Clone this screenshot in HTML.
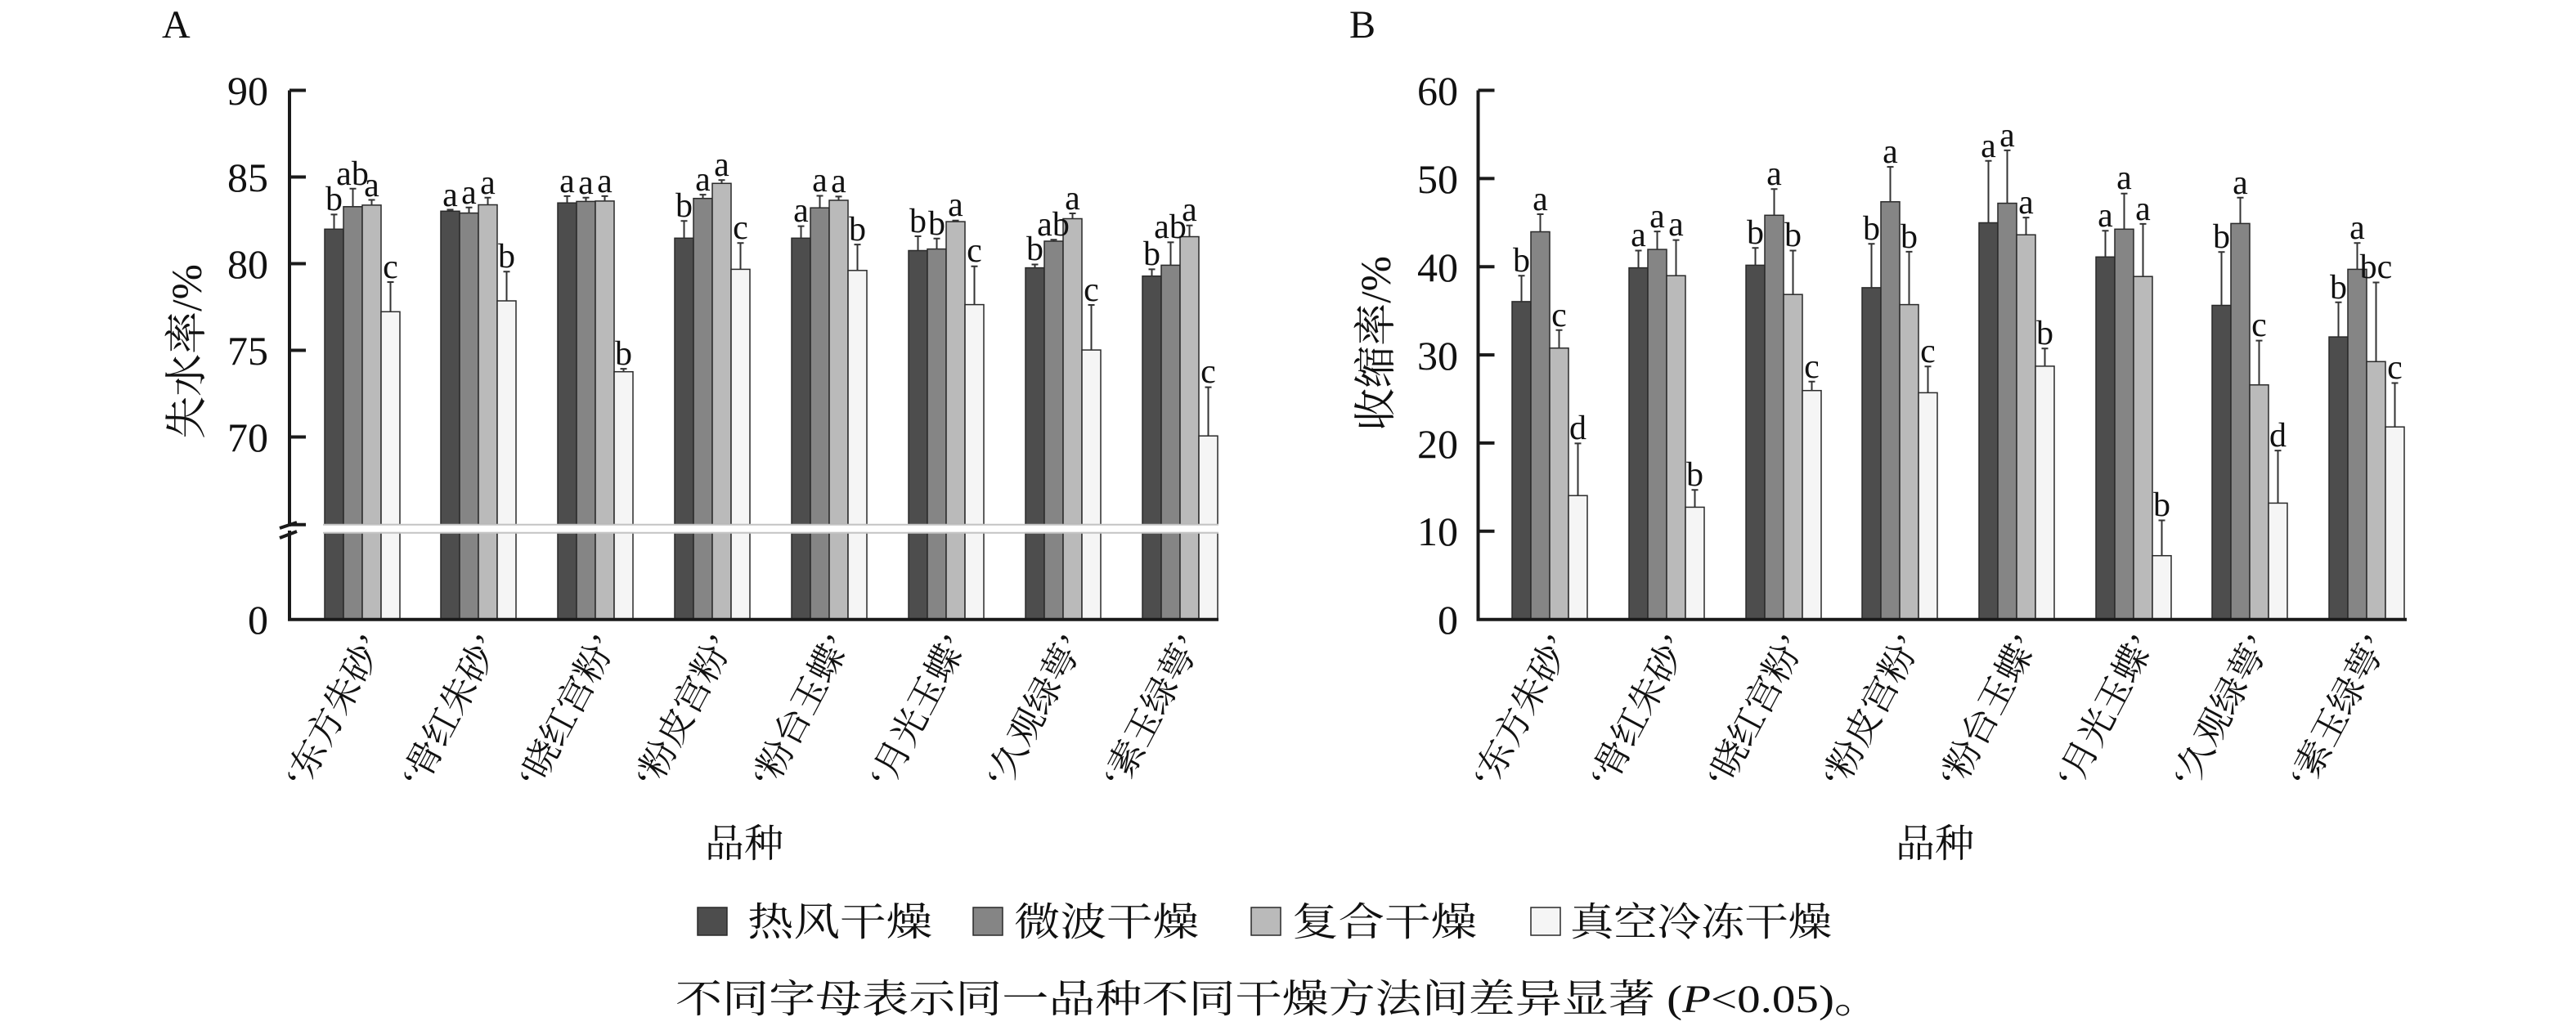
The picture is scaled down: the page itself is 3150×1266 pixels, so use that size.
<!DOCTYPE html>
<html><head><meta charset="utf-8"><style>
html,body{margin:0;padding:0;background:#fff}
svg{display:block}
.n{font-family:"Liberation Serif","Noto Serif CJK SC",serif;font-size:50px;fill:#111}
.l{font-family:"Liberation Serif",serif;font-size:42px;fill:#111;text-anchor:middle}
.c{font-family:"Liberation Serif","Noto Serif CJK SC",serif;fill:#111}
.b0{fill:#4d4d4d;stroke:#2a2a2a;stroke-width:1.5}
.b1{fill:#858585;stroke:#2a2a2a;stroke-width:1.5}
.b2{fill:#bababa;stroke:#2a2a2a;stroke-width:1.5}
.b3{fill:#f5f5f5;stroke:#2a2a2a;stroke-width:1.5}
.e{stroke:#333;stroke-width:2;fill:none}
.ax{stroke:#1a1a1a;stroke-width:4;fill:none}
</style></head><body>
<svg width="3150" height="1266" viewBox="0 0 3150 1266" xmlns="http://www.w3.org/2000/svg">
<text class="c" x="198" y="46" font-size="48">A</text>
<text class="c" x="1650" y="46" font-size="48">B</text>

<!-- ===== Chart A ===== -->
<text class="c" font-size="52" text-anchor="middle" transform="translate(246,430) rotate(-90)">失水率/%</text>
<g class="n" text-anchor="end">
<text x="328" y="128">90</text><text x="328" y="234">85</text><text x="328" y="340">80</text><text x="328" y="446">75</text><text x="328" y="552">70</text><text x="328" y="775">0</text>
</g>
<g>
<rect class="b0" x="397" y="280.3" width="23" height="361.4"/><rect class="b1" x="420" y="252.8" width="23" height="388.9"/><rect class="b2" x="443" y="250.9" width="23" height="390.8"/><rect class="b3" x="466" y="381.3" width="23" height="260.4"/>
<rect class="b0" x="539" y="258.3" width="23" height="383.4"/><rect class="b1" x="562" y="260.6" width="23" height="381.1"/><rect class="b2" x="585" y="250.5" width="23" height="391.2"/><rect class="b3" x="608" y="368" width="23" height="273.7"/>
<rect class="b0" x="682" y="248.2" width="23" height="393.5"/><rect class="b1" x="705" y="246.4" width="23" height="395.3"/><rect class="b2" x="728" y="245.9" width="23" height="395.8"/><rect class="b3" x="751" y="454.7" width="23" height="187"/>
<rect class="b0" x="825" y="291.3" width="23" height="350.4"/><rect class="b1" x="848" y="242.7" width="23" height="399"/><rect class="b2" x="871" y="224.3" width="23" height="417.4"/><rect class="b3" x="894" y="329.4" width="23" height="312.3"/>
<rect class="b0" x="968" y="291.3" width="23" height="350.4"/><rect class="b1" x="991" y="254.2" width="23" height="387.5"/><rect class="b2" x="1014" y="245" width="23" height="396.7"/><rect class="b3" x="1037" y="330.8" width="23" height="310.9"/>
<rect class="b0" x="1111" y="306.5" width="23" height="335.2"/><rect class="b1" x="1134" y="304.6" width="23" height="337.1"/><rect class="b2" x="1157" y="271.1" width="23" height="370.6"/><rect class="b3" x="1180" y="372.6" width="23" height="269.1"/>
<rect class="b0" x="1254" y="327.6" width="23" height="314.1"/><rect class="b1" x="1277" y="295" width="23" height="346.7"/><rect class="b2" x="1300" y="267.5" width="23" height="374.2"/><rect class="b3" x="1323" y="428.1" width="23" height="213.6"/>
<rect class="b0" x="1397" y="337.7" width="23" height="304"/><rect class="b1" x="1420" y="324.4" width="23" height="317.3"/><rect class="b2" x="1443" y="289.5" width="23" height="352.2"/><rect class="b3" x="1466" y="533.2" width="23" height="108.5"/>
</g>
<g>
<rect class="b0" x="397" y="651.7" width="23" height="106"/><rect class="b1" x="420" y="651.7" width="23" height="106"/><rect class="b2" x="443" y="651.7" width="23" height="106"/><rect class="b3" x="466" y="651.7" width="23" height="106"/>
<rect class="b0" x="539" y="651.7" width="23" height="106"/><rect class="b1" x="562" y="651.7" width="23" height="106"/><rect class="b2" x="585" y="651.7" width="23" height="106"/><rect class="b3" x="608" y="651.7" width="23" height="106"/>
<rect class="b0" x="682" y="651.7" width="23" height="106"/><rect class="b1" x="705" y="651.7" width="23" height="106"/><rect class="b2" x="728" y="651.7" width="23" height="106"/><rect class="b3" x="751" y="651.7" width="23" height="106"/>
<rect class="b0" x="825" y="651.7" width="23" height="106"/><rect class="b1" x="848" y="651.7" width="23" height="106"/><rect class="b2" x="871" y="651.7" width="23" height="106"/><rect class="b3" x="894" y="651.7" width="23" height="106"/>
<rect class="b0" x="968" y="651.7" width="23" height="106"/><rect class="b1" x="991" y="651.7" width="23" height="106"/><rect class="b2" x="1014" y="651.7" width="23" height="106"/><rect class="b3" x="1037" y="651.7" width="23" height="106"/>
<rect class="b0" x="1111" y="651.7" width="23" height="106"/><rect class="b1" x="1134" y="651.7" width="23" height="106"/><rect class="b2" x="1157" y="651.7" width="23" height="106"/><rect class="b3" x="1180" y="651.7" width="23" height="106"/>
<rect class="b0" x="1254" y="651.7" width="23" height="106"/><rect class="b1" x="1277" y="651.7" width="23" height="106"/><rect class="b2" x="1300" y="651.7" width="23" height="106"/><rect class="b3" x="1323" y="651.7" width="23" height="106"/>
<rect class="b0" x="1397" y="651.7" width="23" height="106"/><rect class="b1" x="1420" y="651.7" width="23" height="106"/><rect class="b2" x="1443" y="651.7" width="23" height="106"/><rect class="b3" x="1466" y="651.7" width="23" height="106"/>
</g>
<line x1="395" y1="641.7" x2="1490" y2="641.7" stroke="#c4c4c4" stroke-width="2"/>
<line x1="395" y1="651.7" x2="1490" y2="651.7" stroke="#c4c4c4" stroke-width="2"/>
<path class="e" d="
M408.5 280.3V262.4M404.5 262.4h8 M431.5 252.8V230.7M427.5 230.7h8 M454.5 250.9V244.5M450.5 244.5h8 M477.5 381.3V345M473.5 345h8
M550.5 258.3V256.5M546.5 256.5h8 M573.5 260.6V253.7M569.5 253.7h8 M596.5 250.5V241.8M592.5 241.8h8 M619.5 368V332.2M615.5 332.2h8
M693.5 248.2V239.9M689.5 239.9h8 M716.5 246.4V241.8M712.5 241.8h8 M739.5 245.9V239.9M735.5 239.9h8 M762.5 454.7V451.1M758.5 451.1h8
M836.5 291.3V270.2M832.5 270.2h8 M859.5 242.7V238.1M855.5 238.1h8 M882.5 224.3V220.2M878.5 220.2h8 M905.5 329.4V297.3M901.5 297.3h8
M979.5 291.3V276.6M975.5 276.6h8 M1002.5 254.2V239.5M998.5 239.5h8 M1025.5 245V240.4M1021.5 240.4h8 M1048.5 330.8V299.1M1044.5 299.1h8
M1122.5 306.5V289M1118.5 289h8 M1145.5 304.6V291.8M1141.5 291.8h8 M1168.5 271.1V269.8M1164.5 269.8h8 M1191.5 372.6V325.8M1187.5 325.8h8
M1265.5 327.6V323.5M1261.5 323.5h8 M1288.5 295V293.2M1284.5 293.2h8 M1311.5 267.5V261M1307.5 261h8 M1334.5 428.1V373M1330.5 373h8
M1408.5 337.7V329.4M1404.5 329.4h8 M1431.5 324.4V296.4M1427.5 296.4h8 M1454.5 289.5V275.7M1450.5 275.7h8 M1477.5 533.2V473.6M1473.5 473.6h8"/>
<g class="l">
<text x="408.5" y="257">b</text><text x="431" y="226">ab</text><text x="454.5" y="240">a</text><text x="477.5" y="340">c</text>
<text x="550.5" y="252">a</text><text x="573.5" y="249">a</text><text x="596.5" y="237">a</text><text x="619.5" y="327">b</text>
<text x="693.5" y="235">a</text><text x="716.5" y="237">a</text><text x="739.5" y="235">a</text><text x="762.5" y="446">b</text>
<text x="836.5" y="265">b</text><text x="859.5" y="233">a</text><text x="882.5" y="215">a</text><text x="905.5" y="292">c</text>
<text x="979.5" y="271">a</text><text x="1002.5" y="234">a</text><text x="1025.5" y="235">a</text><text x="1048.5" y="294">b</text>
<text x="1122.5" y="284">b</text><text x="1145.5" y="287">b</text><text x="1168.5" y="264">a</text><text x="1191.5" y="320">c</text>
<text x="1265.5" y="318">b</text><text x="1288" y="288">ab</text><text x="1311.5" y="256">a</text><text x="1334.5" y="368">c</text>
<text x="1408.5" y="324">b</text><text x="1431" y="291">ab</text><text x="1454.5" y="270">a</text><text x="1477.5" y="468">c</text>
</g>
<path class="ax" d="M354 110.5V644 M354 649V758 M352 757.7H1490"/>
<path class="ax" stroke-width="3" d="M354 110.5h20M354 216.5h20M354 322.5h20M354 428.5h20M354 534.5h20M354 641.7h20"/>
<path class="ax" stroke-width="3.5" d="M342 646L363 639 M342 658L363 650"/>
<g class="c" font-size="44" text-anchor="end">
<text transform="translate(470,786) rotate(-62)">‘东方朱砂’</text>
<text transform="translate(612,786) rotate(-62)">‘骨红朱砂’</text>
<text transform="translate(755,786) rotate(-62)">‘晓红宫粉’</text>
<text transform="translate(898,786) rotate(-62)">‘粉皮宫粉’</text>
<text transform="translate(1041,786) rotate(-62)">‘粉台玉蝶’</text>
<text transform="translate(1184,786) rotate(-62)">‘月光玉蝶’</text>
<text transform="translate(1327,786) rotate(-62)">‘久观绿萼’</text>
<text transform="translate(1470,786) rotate(-62)">‘素玉绿萼’</text>
</g>
<text class="c" font-size="48" x="910" y="1048" text-anchor="middle">品种</text>

<!-- ===== Chart B ===== -->
<text class="c" font-size="52" text-anchor="middle" transform="translate(1700,420) rotate(-90)">收缩率/%</text>
<g class="n" text-anchor="end">
<text x="1783" y="128">60</text><text x="1783" y="236">50</text><text x="1783" y="344">40</text><text x="1783" y="452">30</text><text x="1783" y="560">20</text><text x="1783" y="667">10</text><text x="1783" y="775">0</text>
</g>
<g>
<rect class="b0" x="1849" y="368.9" width="23" height="388.8"/><rect class="b1" x="1872" y="283.5" width="23" height="474.2"/><rect class="b2" x="1895" y="425.8" width="23" height="331.9"/><rect class="b3" x="1918" y="606.2" width="23" height="151.5"/>
<rect class="b0" x="1992" y="327.6" width="23" height="430.1"/><rect class="b1" x="2015" y="305.1" width="23" height="452.6"/><rect class="b2" x="2038" y="337.2" width="23" height="420.5"/><rect class="b3" x="2061" y="620.4" width="23" height="137.3"/>
<rect class="b0" x="2135" y="324.4" width="23" height="433.3"/><rect class="b1" x="2158" y="263.3" width="23" height="494.4"/><rect class="b2" x="2181" y="360.2" width="23" height="397.5"/><rect class="b3" x="2204" y="477.7" width="23" height="280"/>
<rect class="b0" x="2277" y="351.9" width="23" height="405.8"/><rect class="b1" x="2300" y="246.8" width="23" height="510.9"/><rect class="b2" x="2323" y="372.6" width="23" height="385.1"/><rect class="b3" x="2346" y="480.4" width="23" height="277.3"/>
<rect class="b0" x="2420" y="272.5" width="23" height="485.2"/><rect class="b1" x="2443" y="248.6" width="23" height="509.1"/><rect class="b2" x="2466" y="287.2" width="23" height="470.5"/><rect class="b3" x="2489" y="447.9" width="23" height="309.8"/>
<rect class="b0" x="2563" y="314.3" width="23" height="443.4"/><rect class="b1" x="2586" y="280.3" width="23" height="477.4"/><rect class="b2" x="2609" y="338.2" width="23" height="419.5"/><rect class="b3" x="2632" y="679.7" width="23" height="78"/>
<rect class="b0" x="2705" y="373.5" width="23" height="384.2"/><rect class="b1" x="2728" y="273.4" width="23" height="484.3"/><rect class="b2" x="2751" y="470.8" width="23" height="286.9"/><rect class="b3" x="2774" y="615.4" width="23" height="142.3"/>
<rect class="b0" x="2848" y="412.1" width="23" height="345.6"/><rect class="b1" x="2871" y="329.4" width="23" height="428.3"/><rect class="b2" x="2894" y="442.3" width="23" height="315.4"/><rect class="b3" x="2917" y="522.2" width="23" height="235.5"/>
</g>
<path class="e" d="
M1860.5 368.9V337.2M1856.5 337.2h8 M1883.5 283.5V262M1879.5 262h8 M1906.5 425.8V403.8M1902.5 403.8h8 M1929.5 606.2V542.4M1925.5 542.4h8
M2003.5 327.6V306.5M1999.5 306.5h8 M2026.5 305.1V283.1M2022.5 283.1h8 M2049.5 337.2V293.6M2045.5 293.6h8 M2072.5 620.4V599.3M2068.5 599.3h8
M2146.5 324.4V303.3M2142.5 303.3h8 M2169.5 263.3V231.2M2165.5 231.2h8 M2192.5 360.2V306.5M2188.5 306.5h8 M2215.5 477.7V466.7M2211.5 466.7h8
M2288.5 351.9V298.2M2284.5 298.2h8 M2311.5 246.8V204.1M2307.5 204.1h8 M2334.5 372.6V307.9M2330.5 307.9h8 M2357.5 480.4V448.3M2353.5 448.3h8
M2431.5 272.5V196.8M2427.5 196.8h8 M2454.5 248.6V183.9M2450.5 183.9h8 M2477.5 287.2V266.1M2473.5 266.1h8 M2500.5 447.9V426.3M2496.5 426.3h8
M2574.5 314.3V282.2M2570.5 282.2h8 M2597.5 280.3V236.7M2593.5 236.7h8 M2620.5 338.2V273.9M2616.5 273.9h8 M2643.5 679.7V636.5M2639.5 636.5h8
M2716.5 373.5V308.3M2712.5 308.3h8 M2739.5 273.4V241.8M2735.5 241.8h8 M2762.5 470.8V416.6M2758.5 416.6h8 M2785.5 615.4V551.1M2781.5 551.1h8
M2859.5 412.1V369.8M2855.5 369.8h8 M2882.5 329.4V297.3M2878.5 297.3h8 M2905.5 442.3V345.5M2901.5 345.5h8 M2928.5 522.2V468.5M2924.5 468.5h8"/>
<g class="l">
<text x="1860.5" y="332">b</text><text x="1883.5" y="257">a</text><text x="1906.5" y="399">c</text><text x="1929.5" y="537">d</text>
<text x="2003.5" y="301">a</text><text x="2026.5" y="278">a</text><text x="2049.5" y="288">a</text><text x="2072.5" y="594">b</text>
<text x="2146.5" y="298">b</text><text x="2169.5" y="226">a</text><text x="2192.5" y="301">b</text><text x="2215.5" y="462">c</text>
<text x="2288.5" y="293">b</text><text x="2311.5" y="199">a</text><text x="2334.5" y="303">b</text><text x="2357.5" y="443">c</text>
<text x="2431.5" y="192">a</text><text x="2454.5" y="179">a</text><text x="2477.5" y="261">a</text><text x="2500.5" y="421">b</text>
<text x="2574.5" y="277">a</text><text x="2597.5" y="231">a</text><text x="2620.5" y="269">a</text><text x="2643.5" y="631">b</text>
<text x="2716.5" y="303">b</text><text x="2739.5" y="237">a</text><text x="2762.5" y="411">c</text><text x="2785.5" y="546">d</text>
<text x="2859.5" y="365">b</text><text x="2882.5" y="292">a</text><text x="2905.5" y="340">bc</text><text x="2928.5" y="463">c</text>
</g>
<path class="ax" d="M1807.5 110.5V758 M1805.5 757.7H2943"/>
<path class="ax" stroke-width="3" d="M1807.5 110.5h20M1807.5 218.4h20M1807.5 326.2h20M1807.5 434.1h20M1807.5 541.9h20M1807.5 649.8h20"/>
<g class="c" font-size="44" text-anchor="end">
<text transform="translate(1922,786) rotate(-62)">‘东方朱砂’</text>
<text transform="translate(2065,786) rotate(-62)">‘骨红朱砂’</text>
<text transform="translate(2208,786) rotate(-62)">‘晓红宫粉’</text>
<text transform="translate(2350,786) rotate(-62)">‘粉皮宫粉’</text>
<text transform="translate(2493,786) rotate(-62)">‘粉台玉蝶’</text>
<text transform="translate(2636,786) rotate(-62)">‘月光玉蝶’</text>
<text transform="translate(2778,786) rotate(-62)">‘久观绿萼’</text>
<text transform="translate(2921,786) rotate(-62)">‘素玉绿萼’</text>
</g>
<text class="c" font-size="48" x="2366" y="1048" text-anchor="middle">品种</text>

<!-- legend -->
<rect class="b0" x="853" y="1110" width="36" height="34"/>
<text class="c" font-size="48" x="914" y="1144" textLength="226" lengthAdjust="spacingAndGlyphs">热风干燥</text>
<rect class="b1" x="1190" y="1110" width="36" height="34"/>
<text class="c" font-size="48" x="1240" y="1144" textLength="226" lengthAdjust="spacingAndGlyphs">微波干燥</text>
<rect class="b2" x="1530" y="1110" width="36" height="34"/>
<text class="c" font-size="48" x="1580" y="1144" textLength="226" lengthAdjust="spacingAndGlyphs">复合干燥</text>
<rect class="b3" x="1872" y="1110" width="36" height="34"/>
<text class="c" font-size="48" x="1920" y="1144" textLength="320" lengthAdjust="spacingAndGlyphs">真空冷冻干燥</text>
<text class="c" font-size="48" x="826" y="1238" textLength="1474" lengthAdjust="spacingAndGlyphs">不同字母表示同一品种不同干燥方法间差异显著 (<tspan font-style="italic">P</tspan>&lt;0.05)。</text>
</svg>
</body></html>
